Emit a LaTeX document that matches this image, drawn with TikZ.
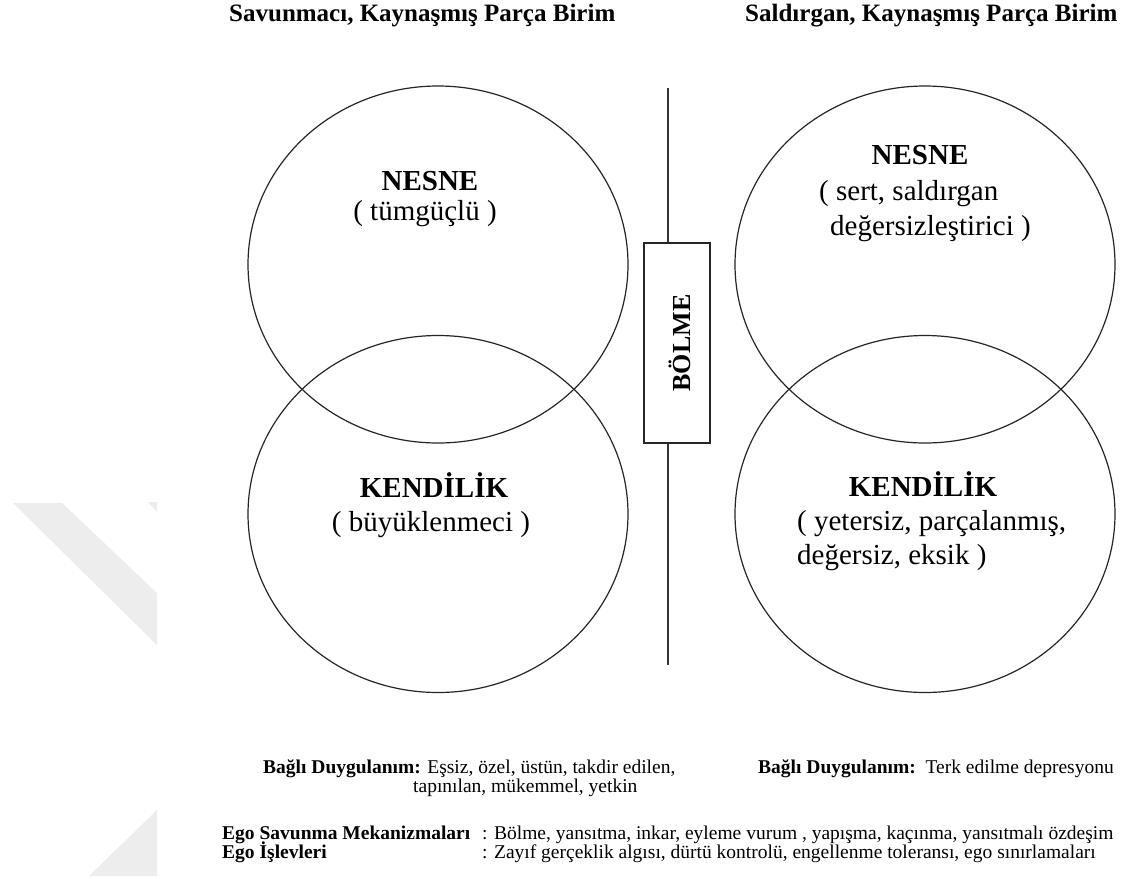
\documentclass[tikz,border=0pt]{standalone}
\usepackage{fontspec}
\setmainfont{Liberation Serif}
\usetikzlibrary{shapes.geometric}
\begin{document}
\begin{tikzpicture}[x=1pt,y=-1pt,
  oval/.style={draw=black!85, line width=1.2pt, ellipse, minimum width=380pt, minimum height=357pt, inner sep=0pt},
  heading/.style={font=\fontsize{25}{28}\selectfont\bfseries, anchor=base west, inner sep=0pt},
  ctitle/.style={font=\fontsize{29}{30}\selectfont\bfseries, inner sep=0pt, anchor=mid},
  cline/.style={font=\fontsize{29}{30}\selectfont, inner sep=0pt, anchor=mid},
  clinew/.style={cline, anchor=mid west},
  note/.style={font=\fontsize{19.5}{20}\selectfont, inner sep=0pt, anchor=mid west},
  rail/.style={draw=black!80, line width=1.2pt},
  wm/.style={fill=black!7, draw=none}]
\fill[white] (0,0) rectangle (1132,876);
\useasboundingbox (0,0) rectangle (1132,876);

% faint background mark on the left
\fill[wm] (13,503) -- (62,503) -- (157,593) -- (157,645) -- cycle;
\fill[wm] (148,502) -- (157,502) -- (157,512) -- cycle;
\fill[wm] (157,810) -- (157,876) -- (89,876) -- cycle;

% headings
\node[heading] (hL) at (229,21) {Savunmacı, Kaynaşmış Parça Birim};
\node[heading] (hR) at (745,21) {Saldırgan, Kaynaşmış Parça Birim};

% the four ovals
\node[oval] (objL) at (438,264.5) {};
\node[oval] (selfL) at (438,514) {};
\node[oval] (objR) at (925,264.5) {};
\node[oval] (selfR) at (925,514) {};

% splitting bar
\coordinate (railTop) at (668,88);
\coordinate (railBot) at (668,665);
\node[draw=black!85, line width=1.2pt, minimum width=66pt, minimum height=200pt, inner sep=0pt] (split) at (677,343) {};
\node[rotate=90, font=\fontsize{26}{28}\selectfont\bfseries, inner sep=0pt] (splitLabel) at (680,343) {BÖLME};
\draw[rail] (railTop) -- (railTop |- split.north);
\draw[rail] (railBot) -- (railBot |- split.south);

% left unit texts
\node[ctitle] (tObjL) at (430,188) {NESNE};
\node[cline] (dObjL) at (425,218) {( tümgüçlü )};
\node[ctitle] (tSelfL) at (434,495) {KENDİLİK};
\node[cline] (dSelfL) at (431,529) {( büyüklenmeci )};

% right unit texts
\node[ctitle] (tObjR) at (920,162) {NESNE};
\node[clinew] (dObjR1) at (819,198) {( sert, saldırgan};
\node[clinew] (dObjR2) at (830,233) {değersizleştirici )};
\node[ctitle] (tSelfR) at (923,494) {KENDİLİK};
\node[clinew] (dSelfR1) at (797,528) {( yetersiz, parçalanmış,};
\node[clinew] (dSelfR2) at (797,562) {değersiz, eksik )};

% notes below
\node[note] (affL1) at (263,771) {\textbf{Bağlı Duygulanım:} Eşsiz, özel, üstün, takdir edilen,};
\node[note] (affL2) at (413,790) {tapınılan, mükemmel, yetkin};
\node[note] (affR) at (758,771) {\textbf{Bağlı Duygulanım:}\ \ Terk edilme depresyonu};
\node[note] (defK) at (222,837) {\textbf{Ego Savunma Mekanizmaları}};
\node[note] (defV) at (482,837) {: Bölme, yansıtma, inkar, eyleme vurum , yapışma, kaçınma, yansıtmalı özdeşim};
\node[note] (funK) at (222,856) {\textbf{Ego İşlevleri}};
\node[note] (funV) at (482,856) {: Zayıf gerçeklik algısı, dürtü kontrolü, engellenme toleransı, ego sınırlamaları};
\end{tikzpicture}
\end{document}
